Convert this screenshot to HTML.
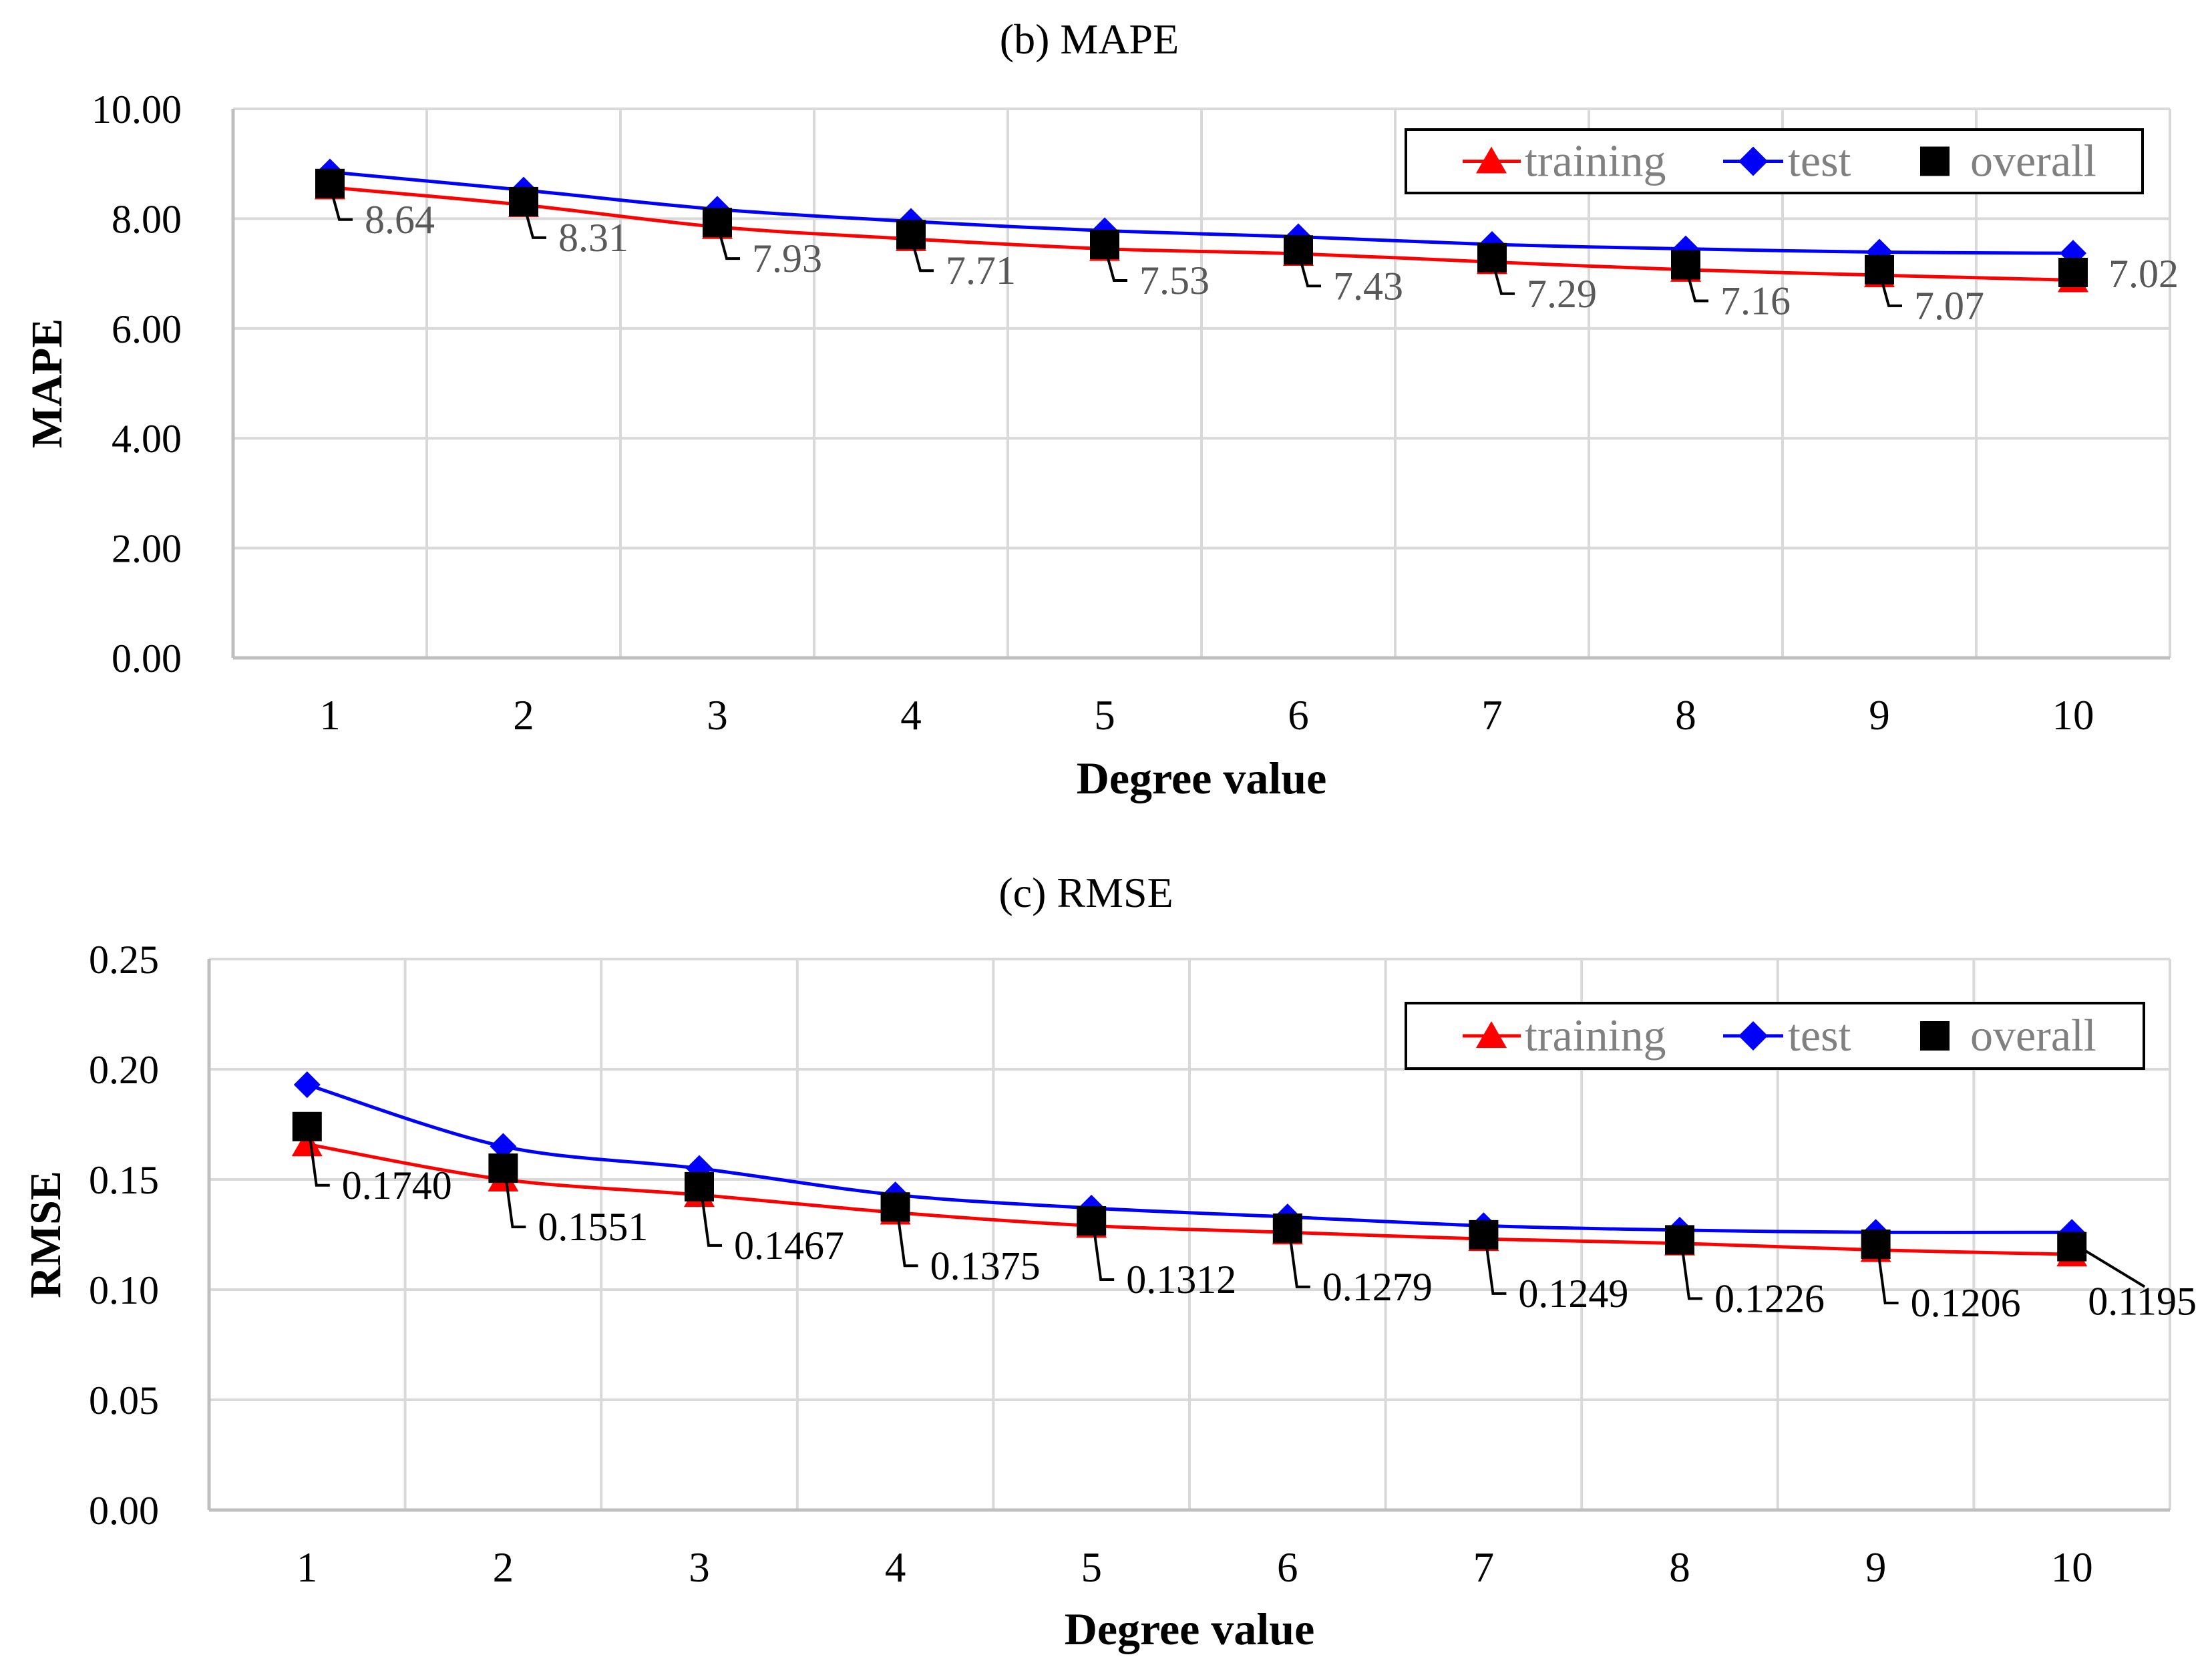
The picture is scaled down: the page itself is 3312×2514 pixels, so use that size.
<!DOCTYPE html>
<html><head><meta charset="utf-8"><style>
html,body{margin:0;padding:0;background:#fff}
svg{display:block;font-family:"Liberation Serif",serif}
</style></head><body>
<svg id="svg" width="3312" height="2514" viewBox="0 0 3312 2514" xmlns="http://www.w3.org/2000/svg">
<rect width="3312" height="2514" fill="#fff"/>
</svg>
<script>
const categories = [1,2,3,4,5,6,7,8,9,10];
const mapeTraining = [8.57,8.25,7.85,7.63,7.45,7.36,7.21,7.07,6.97,6.88];
const mapeTest = [8.85,8.52,8.17,7.95,7.78,7.67,7.53,7.45,7.39,7.37];
const mapeOverall = [8.64,8.31,7.93,7.71,7.53,7.43,7.29,7.16,7.07,7.02];
const mapeTicks = [0,2,4,6,8,10];
const rmseTraining = [0.166,0.150,0.143,0.135,0.129,0.126,0.123,0.121,0.118,0.116];
const rmseTest = [0.193,0.165,0.155,0.143,0.137,0.133,0.129,0.127,0.126,0.126];
const rmseOverall = [0.1740,0.1551,0.1467,0.1375,0.1312,0.1279,0.1249,0.1226,0.1206,0.1195];
const rmseTicks = [0,0.05,0.10,0.15,0.20,0.25];

const NS="http://www.w3.org/2000/svg";
const svg=document.getElementById('svg');
function mk(tag,attrs,parent,text){const e=document.createElementNS(NS,tag);for(const k in attrs)e.setAttribute(k,attrs[k]);if(text!==undefined)e.textContent=text;(parent||svg).appendChild(e);return e;}
function smooth(pts){let d=`M${pts[0][0]},${pts[0][1]}`;for(let i=0;i<pts.length-1;i++){const p0=pts[i-1]||pts[i],p1=pts[i],p2=pts[i+1],p3=pts[i+2]||p2;const t=0.16;d+=` C${p1[0]+(p2[0]-p0[0])*t},${p1[1]+(p2[1]-p0[1])*t} ${p2[0]-(p3[0]-p1[0])*t},${p2[1]-(p3[1]-p1[1])*t} ${p2[0]},${p2[1]}`;}return d;}

function chart(cfg){
  const g=mk('g',{});
  
  
  const {L,R,T,B,ymax}=cfg;
  const cw=(R-L)/categories.length;
  const xs=i=>L+cw*(i+0.5);
  const ys=v=>B-(v/ymax)*(B-T);
  cfg.ticks.forEach(t=>{const l=mk('line',{x1:L,x2:R,y1:ys(t),y2:ys(t),stroke:'#d9d9d9','stroke-width':4},g);
    
    const tx=mk('text',{x:cfg.tickRight,y:ys(t)+21,'font-size':60,'text-anchor':'end',fill:'#000'},g,t.toFixed(2));
    });
  for(let i=0;i<=categories.length;i++){const l=mk('line',{x1:L+cw*i,x2:L+cw*i,y1:T,y2:B,stroke:'#d9d9d9','stroke-width':4},g);
    }
  mk('line',{x1:L,x2:R,y1:B,y2:B,stroke:'#bfbfbf','stroke-width':5},g);
  mk('line',{x1:L,x2:L,y1:T,y2:B,stroke:'#bfbfbf','stroke-width':5},g);
  categories.forEach((c,i)=>{const t=mk('text',{x:xs(i),y:cfg.xTickY,'font-size':63,'text-anchor':'middle'},g,c);
    });
  const xt=mk('text',{x:(L+R)/2,y:cfg.xTitleY,'font-size':68,'font-weight':'bold','text-anchor':'middle'},g,'Degree value');
  
  const yt=mk('text',{x:0,y:0,'font-size':66,'font-weight':'bold','text-anchor':'middle',transform:`translate(${cfg.yTitleX},${(T+B)/2}) rotate(-90)`},g,cfg.yTitle);
  
  const tt=mk('text',{x:cfg.titleX,y:cfg.titleY,'font-size':64,'text-anchor':'middle'},g,cfg.title);
  
  const tr=mk('path',{d:smooth(cfg.train.map((v,i)=>[xs(i),ys(v)])),fill:'none',stroke:'#ff0000','stroke-width':5},g);
  
  const te=mk('path',{d:smooth(cfg.test.map((v,i)=>[xs(i),ys(v)])),fill:'none',stroke:'#0000ff','stroke-width':5},g);
  
  cfg.train.forEach((v,i)=>{const x=xs(i),y=ys(v);const m=mk('polygon',{points:`${x},${y-22} ${x+23},${y+18} ${x-23},${y+18}`,fill:'#ff0000'},g);
    });
  cfg.test.forEach((v,i)=>{const x=xs(i),y=ys(v);const m=mk('polygon',{points:`${x},${y-20} ${x+20},${y} ${x},${y+20} ${x-20},${y}`,fill:'#0000ff'},g);
    });
  cfg.overall.forEach((v,i)=>{const x=xs(i),y=ys(v);const m=mk('rect',{x:x-22,y:y-22,width:44,height:44,fill:'#000'},g);
    
    const last=i===categories.length-1;
    let lx,ly;
    if(last){lx=x+cfg.lastDx;ly=y+cfg.lastDy;
      if(cfg.lastLeader)mk('line',{x1:x+20,y1:y+6,x2:lx+85,y2:ly-42,stroke:'#000','stroke-width':4},g);}
    else{ly=y+cfg.labelDy;lx=x+52;
      mk('polyline',{points:`${x+5},${y+21} ${x+14},${ly-20} ${x+34},${ly-20}`,fill:'none',stroke:'#000','stroke-width':4},g);}
    const t=mk('text',{x:lx,y:ly,'font-size':60,fill:cfg.labelColor},g,cfg.fmt(v));
    });
  const lg=mk('g',{},g);
  const [lx0,ly0,lx1,ly1]=cfg.legend;const cy=(ly0+ly1)/2;
  mk('rect',{x:lx0,y:ly0,width:lx1-lx0,height:ly1-ly0,fill:'#fff',stroke:'#000','stroke-width':4},lg);
  let e=mk('g',{},lg);
  mk('line',{x1:lx0+85,x2:lx0+172,y1:cy,y2:cy,stroke:'#ff0000','stroke-width':5},e);
  mk('polygon',{points:`${lx0+128},${cy-22} ${lx0+151},${cy+18} ${lx0+105},${cy+18}`,fill:'#ff0000'},e);
  mk('text',{x:lx0+178,y:cy+22,'font-size':68,fill:'#808080'},e,'training');
  e=mk('g',{},lg);
  mk('line',{x1:lx0+475,x2:lx0+565,y1:cy,y2:cy,stroke:'#0000ff','stroke-width':5},e);
  mk('polygon',{points:`${lx0+520},${cy-22} ${lx0+542},${cy} ${lx0+520},${cy+22} ${lx0+498},${cy}`,fill:'#0000ff'},e);
  mk('text',{x:lx0+572,y:cy+22,'font-size':68,fill:'#808080'},e,'test');
  e=mk('g',{},lg);
  mk('rect',{x:lx0+770,y:cy-22,width:44,height:44,fill:'#000'},e);
  mk('text',{x:lx0+845,y:cy+22,'font-size':68,fill:'#808080'},e,'overall');
}
chart({name:'mape-chart',L:349,R:3249,T:163,B:985,ymax:10,ticks:mapeTicks,tickRight:272,xTickY:1092,xTitleY:1188,yTitleX:92,yTitle:'MAPE',
  title:'(b) MAPE',titleX:1631,titleY:80,train:mapeTraining,test:mapeTest,overall:mapeOverall,labelDy:74,labelColor:'#595959',
  fmt:v=>v.toFixed(2),lastDx:53,lastDy:22,lastLeader:false,legend:[2105,194,3208,289]});
chart({name:'rmse-chart',L:313,R:3249,T:1436,B:2261,ymax:0.25,ticks:rmseTicks,tickRight:238,xTickY:2368,xTitleY:2462,yTitleX:90,yTitle:'RMSE',
  title:'(c) RMSE',titleX:1626,titleY:1358,train:rmseTraining,test:rmseTest,overall:rmseOverall,labelDy:108,labelColor:'#000',
  fmt:v=>v.toFixed(4),lastDx:24,lastDy:102,lastLeader:true,legend:[2105,1502,3210,1600]});
</script>
</body></html>
